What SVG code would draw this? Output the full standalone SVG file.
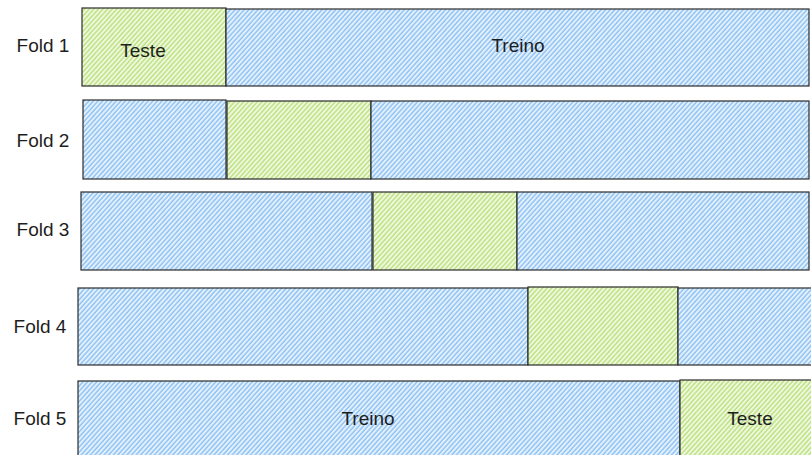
<svg xmlns="http://www.w3.org/2000/svg" width="811" height="455" viewBox="0 0 811 455">
<defs>
<pattern id="hBlue" patternUnits="userSpaceOnUse" width="3.4" height="3.4" patternTransform="rotate(42)">
<rect width="3.4" height="3.4" fill="#e3f0fd"/>
<line x1="1" y1="0" x2="1" y2="3.4" stroke="#86bdf0" stroke-width="1.3"/>
</pattern>
<pattern id="hGreen" patternUnits="userSpaceOnUse" width="3.4" height="3.4" patternTransform="rotate(42)">
<rect width="3.4" height="3.4" fill="#eff8df"/>
<line x1="1" y1="0" x2="1" y2="3.4" stroke="#b6df74" stroke-width="1.3"/>
</pattern>
</defs>
<style>
.blue{fill:url(#hBlue);stroke:#2b2b2b;stroke-width:1.2}
.green{fill:url(#hGreen);stroke:#2b2b2b;stroke-width:1.2}
.lbl{font-family:"Liberation Sans","DejaVu Sans",sans-serif;font-size:19px;fill:#1e1e1e;text-anchor:middle;dominant-baseline:central}
</style>
<rect width="811" height="455" fill="#ffffff"/>

<g id="fold1">
<text class="lbl" x="43" y="45">Fold 1</text>
<g id="f1-teste"><rect class="green" x="82" y="8" width="144" height="78"/><text class="lbl" x="143" y="50">Teste</text></g>
<g id="f1-treino"><rect class="blue" x="226" y="9" width="583" height="77"/><text class="lbl" x="518" y="45">Treino</text></g>
</g>

<g id="fold2">
<text class="lbl" x="43" y="140">Fold 2</text>
<g id="f2-a"><rect class="blue" x="83" y="100" width="143" height="79"/></g>
<g id="f2-b"><rect class="green" x="227" y="101" width="144" height="78"/></g>
<g id="f2-c"><rect class="blue" x="371" y="101" width="438" height="78"/></g>
</g>

<g id="fold3">
<text class="lbl" x="43" y="229">Fold 3</text>
<g id="f3-a"><rect class="blue" x="81" y="192" width="291" height="78"/></g>
<g id="f3-b"><rect class="green" x="373" y="192" width="144" height="78"/></g>
<g id="f3-c"><rect class="blue" x="517" y="192" width="292" height="78"/></g>
</g>

<g id="fold4">
<text class="lbl" x="40" y="326">Fold 4</text>
<g id="f4-a"><rect class="blue" x="78" y="288" width="450" height="77"/></g>
<g id="f4-b"><rect class="green" x="528" y="287" width="150" height="78"/></g>
<g id="f4-c"><rect class="blue" x="678" y="288" width="140" height="77"/></g>
</g>

<g id="fold5">
<text class="lbl" x="40" y="418">Fold 5</text>
<g id="f5-treino"><rect class="blue" x="78" y="381" width="602" height="80"/><text class="lbl" x="368" y="418">Treino</text></g>
<g id="f5-teste"><rect class="green" x="680" y="380" width="140" height="80"/><text class="lbl" x="750" y="418">Teste</text></g>
</g>
</svg>
